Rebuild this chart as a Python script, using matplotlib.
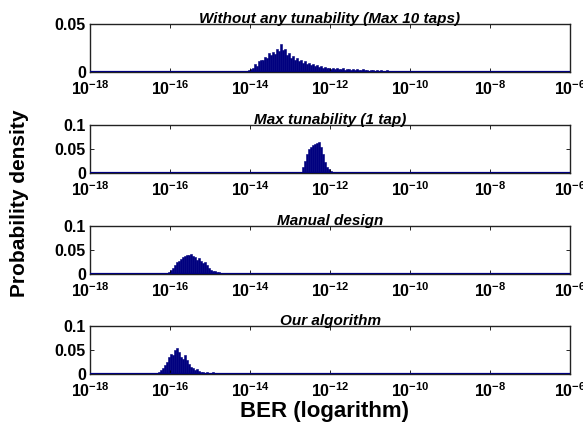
import matplotlib
matplotlib.use("Agg")
import matplotlib.pyplot as plt
from matplotlib.ticker import FixedLocator, FuncFormatter
import numpy as np

plt.rcParams['font.family'] = ['Liberation Sans', 'DejaVu Sans']
plt.rcParams['font.weight'] = 'bold'
plt.rcParams['mathtext.fontset'] = 'custom'
plt.rcParams['mathtext.rm'] = 'Liberation Sans:bold'
plt.rcParams['mathtext.it'] = 'Liberation Sans:bold'
plt.rcParams['mathtext.bf'] = 'Liberation Sans:bold'

# bin width in decades (log10 BER)
BIN = 0.05

titles = ["Without any tunability (Max 10 taps)", "Max tunability (1 tap)",
          "Manual design", "Our algorithm"]
ymax = [0.05, 0.1, 0.1, 0.1]

# first bin (log10 BER) of each histogram and the bin heights
start_notune = -14.15
dens_notune = [0.001, 0.0, 0.002, 0.003, 0.004, 0.008, 0.006, 0.011, 0.013, 0.012,
               0.016, 0.015, 0.020, 0.018, 0.021, 0.019, 0.024, 0.022, 0.029, 0.023,
               0.024, 0.018, 0.020, 0.015, 0.017, 0.013, 0.015, 0.011, 0.012, 0.009,
               0.011, 0.008, 0.009, 0.007, 0.008, 0.006, 0.007, 0.005, 0.006, 0.004,
               0.005, 0.004, 0.004, 0.003, 0.004, 0.003, 0.004, 0.003, 0.003, 0.004,
               0.002, 0.003, 0.003, 0.002, 0.003, 0.002, 0.003, 0.002, 0.002, 0.003,
               0.002, 0.002, 0.001, 0.002, 0.002, 0.001, 0.002, 0.001, 0.002, 0.001,
               0.001, 0.002, 0.001, 0.001, 0.001, 0.001, 0.0, 0.001, 0.001, 0.0,
               0.001, 0.001, 0.0, 0.001, 0.0, 0.001, 0.0, 0.0, 0.001, 0.0,
               0.0, 0.001, 0.0, 0.0, 0.0, 0.001, 0.0, 0.0, 0.0, 0.0,
               0.001, 0.0, 0.0, 0.0, 0.0, 0.0, 0.001, 0.0, 0.0, 0.0,
               0.0, 0.0, 0.0, 0.001, 0.0, 0.0, 0.0, 0.0, 0.0, 0.0,
               0.0, 0.001, 0.0, 0.0, 0.0, 0.0, 0.0, 0.0, 0.0, 0.001]

start_maxtune = -12.75
dens_maxtune = [0.003, 0.012, 0.025, 0.040, 0.050, 0.055, 0.058, 0.060, 0.063, 0.065,
                0.055, 0.040, 0.022, 0.012, 0.008, 0.004, 0.002, 0.001]

start_manual = -16.10
dens_manual = [0.001, 0.004, 0.008, 0.012, 0.018, 0.024, 0.028, 0.032, 0.035, 0.037,
               0.039, 0.040, 0.042, 0.038, 0.035, 0.030, 0.033, 0.028, 0.022, 0.026,
               0.018, 0.012, 0.009, 0.007, 0.006, 0.005, 0.004, 0.003, 0.002, 0.002,
               0.002, 0.001, 0.001, 0.0, 0.001, 0.0, 0.001, 0.0, 0.0, 0.001,
               0.0, 0.0, 0.001]

start_ours = -16.45
dens_ours = [0.001, 0.002, 0.003, 0.005, 0.008, 0.012, 0.018, 0.025, 0.035, 0.042,
             0.040, 0.050, 0.055, 0.045, 0.035, 0.032, 0.040, 0.030, 0.020, 0.015,
             0.012, 0.008, 0.010, 0.006, 0.005, 0.004, 0.003, 0.004, 0.003, 0.003,
             0.004, 0.002, 0.003, 0.003, 0.002, 0.003, 0.002, 0.002, 0.001, 0.002,
             0.001, 0.001, 0.002, 0.0, 0.001, 0.0, 0.0, 0.001, 0.0, 0.0,
             0.001, 0.0, 0.0, 0.0, 0.0, 0.001, 0.0, 0.0, 0.0, 0.0,
             0.0, 0.0, 0.0, 0.001, 0.0, 0.0, 0.0, 0.0, 0.0, 0.0,
             0.0, 0.0, 0.0, 0.0, 0.0, 0.0, 0.0, 0.001]

starts = [start_notune, start_maxtune, start_manual, start_ours]
dens = [dens_notune, dens_maxtune, dens_manual, dens_ours]

navy = '#00007F'
W, H = 583, 430
fig = plt.figure(figsize=(W / 100, H / 100), dpi=100)

tops = [24, 125, 226, 326]
ax_h = 48
x0, x1 = 90, 570

for k in range(4):
    ax = fig.add_axes([x0 / W, 1 - (tops[k] + ax_h) / H, (x1 - x0) / W, ax_h / H])
    lo = starts[k] + BIN * np.arange(len(dens[k]))
    left = 10.0 ** lo
    width = 10.0 ** (lo + BIN) - left
    ax.bar(left, dens[k], width=width, align='edge', color=navy,
           edgecolor=navy, linewidth=0.4)
    ax.axhline(0, color=navy, lw=1.6, zorder=3)
    ax.set_xscale('log')
    ax.set_xlim(1e-18, 1e-6)
    ax.set_ylim(0, ymax[k])
    ax.xaxis.set_major_locator(FixedLocator([10.0 ** e for e in range(-18, -5, 2)]))
    ax.xaxis.set_minor_locator(FixedLocator([]))
    ax.xaxis.set_major_formatter(FuncFormatter(
        lambda v, p: r'$10^{%d}$' % int(round(np.log10(v)))))
    if ymax[k] == 0.05:
        ax.set_yticks([0, 0.05])
        ax.set_yticklabels(['0', '0.05'])
    else:
        ax.set_yticks([0, 0.05, 0.1])
        ax.set_yticklabels(['0', '0.05', '0.1'])
    ax.tick_params(direction='in', length=3, width=0.6, top=True, right=True,
                   labelsize=11.5)
    ax.tick_params(axis='x', pad=5)
    ax.tick_params(axis='y', pad=3)
    for s in ax.spines.values():
        s.set_linewidth(1.0)
        s.set_color('#222222')
    ax.set_title(titles[k], fontsize=11, fontweight='bold', fontstyle='italic', pad=1)

fig.text(20 / W, 1 - 203 / H, 'Probability density', rotation=90, fontsize=15,
         fontweight='bold', ha='center', va='center')
fig.text(325 / W, 1 - 412 / H, 'BER (logarithm)', fontsize=16,
         fontweight='bold', ha='center', va='center')

fig.savefig('out.png', dpi=100)
